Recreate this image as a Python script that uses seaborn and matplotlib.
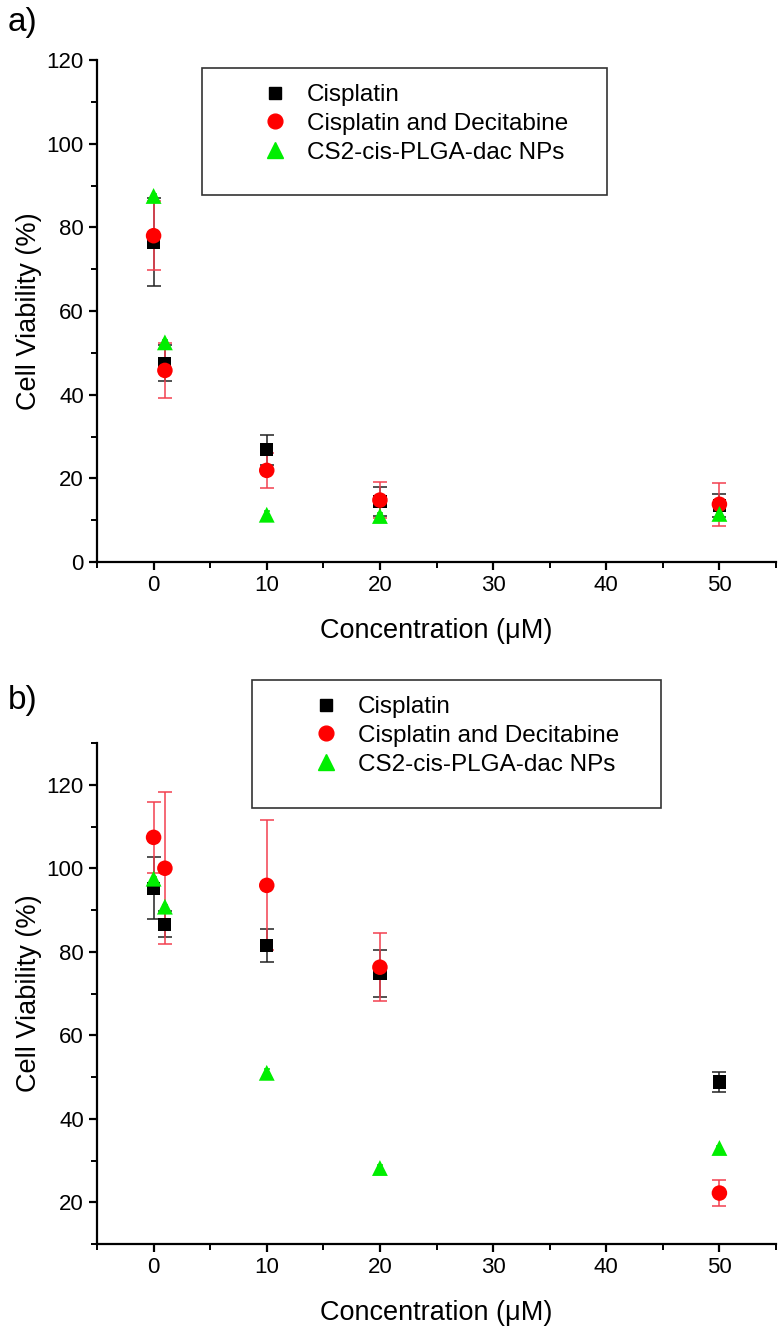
import numpy as np
import pandas as pd
import matplotlib
matplotlib.use("Agg")
import matplotlib.pyplot as plt
import seaborn as sns
from matplotlib.lines import Line2D
from matplotlib.patches import Rectangle
from matplotlib.ticker import MultipleLocator

# concentrations (uM)
conc = [0, 1, 10, 20, 50]
treatments = ["Cisplatin", "Cisplatin and Decitabine", "CS2-cis-PLGA-dac NPs"]

# panel a)
cis_a = [76.5, 47.5, 26.8, 14.5, 13.5]
cis_a_err = [10.5, 4.3, 3.6, 3.5, 2.8]
cd_a = [78.0, 45.8, 21.9, 14.8, 13.8]
cd_a_err = [8.3, 6.5, 4.2, 4.3, 5.1]
np_a = [87.5, 52.5, 11.3, 11.0, 11.5]
np_a_err = [0.5, 0.5, 0.8, 0.6, 0.5]

# panel b)
cis_b = [95.2, 86.6, 81.5, 74.7, 48.8]
cis_b_err = [7.4, 3.1, 3.9, 5.6, 2.5]
cd_b = [107.4, 100.0, 95.9, 76.3, 22.2]
cd_b_err = [8.5, 18.2, 15.6, 8.2, 3.2]
np_b = [97.5, 90.8, 51.0, 28.2, 33.0]
np_b_err = [0.5, 0.5, 0.8, 0.8, 0.5]

colors = {"Cisplatin": "black", "Cisplatin and Decitabine": "#ff0000", "CS2-cis-PLGA-dac NPs": "#00ee00"}
err_colors = {"Cisplatin": "#222222", "Cisplatin and Decitabine": "#f2404f", "CS2-cis-PLGA-dac NPs": "#00dd00"}
markers = {"Cisplatin": "s", "Cisplatin and Decitabine": "o", "CS2-cis-PLGA-dac NPs": "^"}
sizes = {"Cisplatin": 90, "Cisplatin and Decitabine": 125, "CS2-cis-PLGA-dac NPs": 130}
capsizes = {"Cisplatin": 5, "Cisplatin and Decitabine": 5, "CS2-cis-PLGA-dac NPs": 2}

rows = []
for panel, series in [("a", [(cis_a, cis_a_err), (cd_a, cd_a_err), (np_a, np_a_err)]),
                      ("b", [(cis_b, cis_b_err), (cd_b, cd_b_err), (np_b, np_b_err)])]:
    for name, (vals, errs) in zip(treatments, series):
        for c, v, e in zip(conc, vals, errs):
            rows.append({"panel": panel, "treatment": name, "conc": c, "viability": v, "err": e})
df = pd.DataFrame(rows)

sns.set_style("ticks", {"axes.edgecolor": "black", "text.color": "black",
                        "axes.labelcolor": "black", "xtick.color": "black", "ytick.color": "black"})
plt.rcParams["font.family"] = ["Liberation Sans Narrow", "Liberation Sans", "DejaVu Sans"]

fig = plt.figure(figsize=(7.79, 13.32), dpi=100)
W, H = 779, 1332

def fig_rect(l, t, r, b):
    return [l / W, 1 - b / H, (r - l) / W, (b - t) / H]

ax_a = fig.add_axes(fig_rect(97, 60, 776, 562))
ax_b = fig.add_axes(fig_rect(97, 743, 776, 1244))

for ax, panel, ylim in [(ax_a, "a", (0, 120)), (ax_b, "b", (10, 130))]:
    sub = df[df["panel"] == panel]
    for name in treatments:
        s = sub[sub["treatment"] == name]
        ax.errorbar(s["conc"], s["viability"], yerr=s["err"], fmt="none",
                    ecolor=err_colors[name], elinewidth=1.1, capsize=capsizes[name],
                    capthick=1.1, zorder=2)
    sns.scatterplot(data=sub, x="conc", y="viability", hue="treatment", style="treatment",
                    size="treatment", sizes=sizes, palette=colors, markers=markers,
                    hue_order=treatments, style_order=treatments, size_order=treatments,
                    linewidth=0, legend=False, ax=ax, zorder=3)
    ax.set_xlim(-5, 55)
    ax.set_ylim(*ylim)
    ax.xaxis.set_major_locator(MultipleLocator(10))
    ax.xaxis.set_minor_locator(MultipleLocator(5))
    ax.yaxis.set_major_locator(MultipleLocator(20))
    ax.yaxis.set_minor_locator(MultipleLocator(10))
    sns.despine(ax=ax)
    for sp in ["left", "bottom"]:
        ax.spines[sp].set_linewidth(1.6)
    ax.tick_params(which="major", length=6, width=1.6, labelsize=16, direction="out", colors="black")
    ax.tick_params(which="minor", length=4, width=1.4, direction="out", colors="black")
    ax.set_xlabel("Concentration (\u03bcM)", fontsize=19.5, labelpad=16, color="black")
    ax.set_ylabel("Cell Viability (%)", fontsize=19.5, labelpad=3, color="black")

ax_b.set_yticks([20, 40, 60, 80, 100, 120])

handles = [Line2D([], [], linestyle="none", marker=markers[n], color=colors[n],
                  markersize=np.sqrt(sizes[n]) * 0.95) for n in treatments]

for ax, box, anchor in [(ax_a, (202, 68, 607, 195), (251, 72)),
                        (ax_b, (252, 680, 661, 808), (302, 684))]:
    l, t, r, b = box
    fig.patches.append(Rectangle((l / W, 1 - b / H), (r - l) / W, (b - t) / H,
                                 transform=fig.transFigure, fill=False,
                                 edgecolor="#333333", linewidth=1.2, zorder=5))
    leg = ax.legend(handles, treatments, loc="upper left", frameon=False, fontsize=17.5,
                    bbox_to_anchor=(anchor[0] / W, 1 - anchor[1] / H), bbox_transform=fig.transFigure,
                    handlelength=1.0, handletextpad=0.8, labelspacing=0.28, borderpad=0)
    for txt in leg.get_texts():
        txt.set_color("black")

fig.text(8 / W, 1 - 22 / H, "a)", fontsize=24, va="center", ha="left", color="black")
fig.text(8 / W, 1 - 700 / H, "b)", fontsize=24, va="center", ha="left", color="black")

fig.savefig("out.png", dpi=100)
